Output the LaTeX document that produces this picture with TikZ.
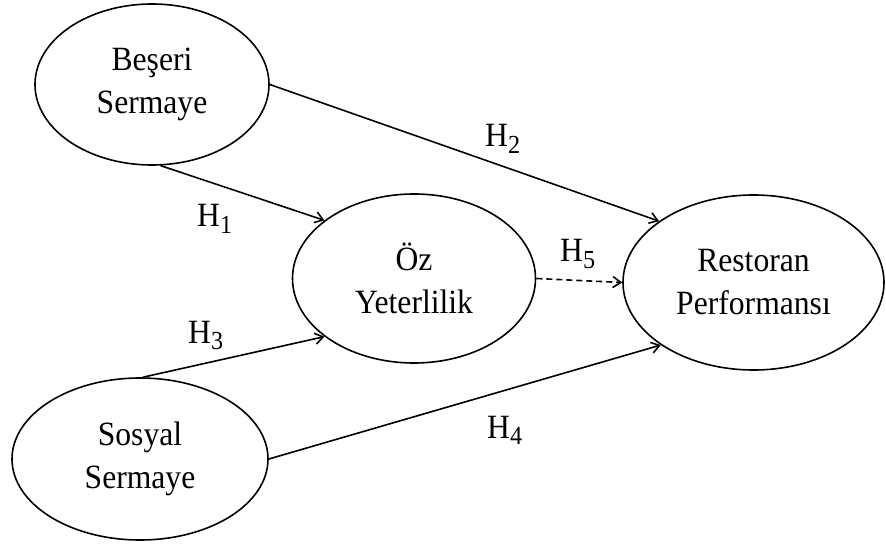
\documentclass[tikz,border=0pt]{standalone}
\usepackage{fontspec}
\setmainfont{Liberation Serif}[FakeStretch=0.93]
\usetikzlibrary{shapes.geometric,arrows.meta}
\newcommand\hypsub[1]{\raisebox{-6.5pt}{\fontsize{26}{26}\selectfont#1}}
\begin{document}
\begin{tikzpicture}[x=1pt,y=-1pt,
  construct/.style={draw, ellipse, line width=1.6pt, inner sep=0pt, align=center,
    font=\fontsize{34}{43}\selectfont},
  hyp/.style={inner sep=0pt, anchor=base west, font=\fontsize{34}{40}\selectfont},
  path/.style={line width=1.6pt, -{Straight Barb[length=8pt,width=11pt,line width=1.6pt]}},
  dpath/.style={path, dash pattern=on 6pt off 4pt}]
\useasboundingbox (0,0) rectangle (886,545);
\node[construct, minimum width=234pt, minimum height=161pt] (B) at (152,84.5) {Beşeri\\Sermaye};
\node[construct, minimum width=243pt, minimum height=169pt] (O) at (414,278.5) {Öz\\Yeterlilik};
\node[construct, minimum width=261pt, minimum height=175pt] (R) at (753.5,282.5) {Restoran\\Performansı};
\node[construct, minimum width=256pt, minimum height=162pt] (S) at (140,459) {Sosyal\\Sermaye};
\draw[path] (B.east) -- (R.147);
\draw[path] (B.-84) -- (O.147);
\draw[path] (S.88) -- (O.213);
\draw[path] (S.east) -- (R.214);
\draw[dpath] (O.east) -- (R.west);
\node[hyp] (h1) at (197,227) {H\hypsub{1}};
\node[hyp] (h2) at (485,147) {H\hypsub{2}};
\node[hyp] (h3) at (188,343) {H\hypsub{3}};
\node[hyp] (h4) at (487,438) {H\hypsub{4}};
\node[hyp] (h5) at (560,262) {H\hypsub{5}};
\end{tikzpicture}
\end{document}
